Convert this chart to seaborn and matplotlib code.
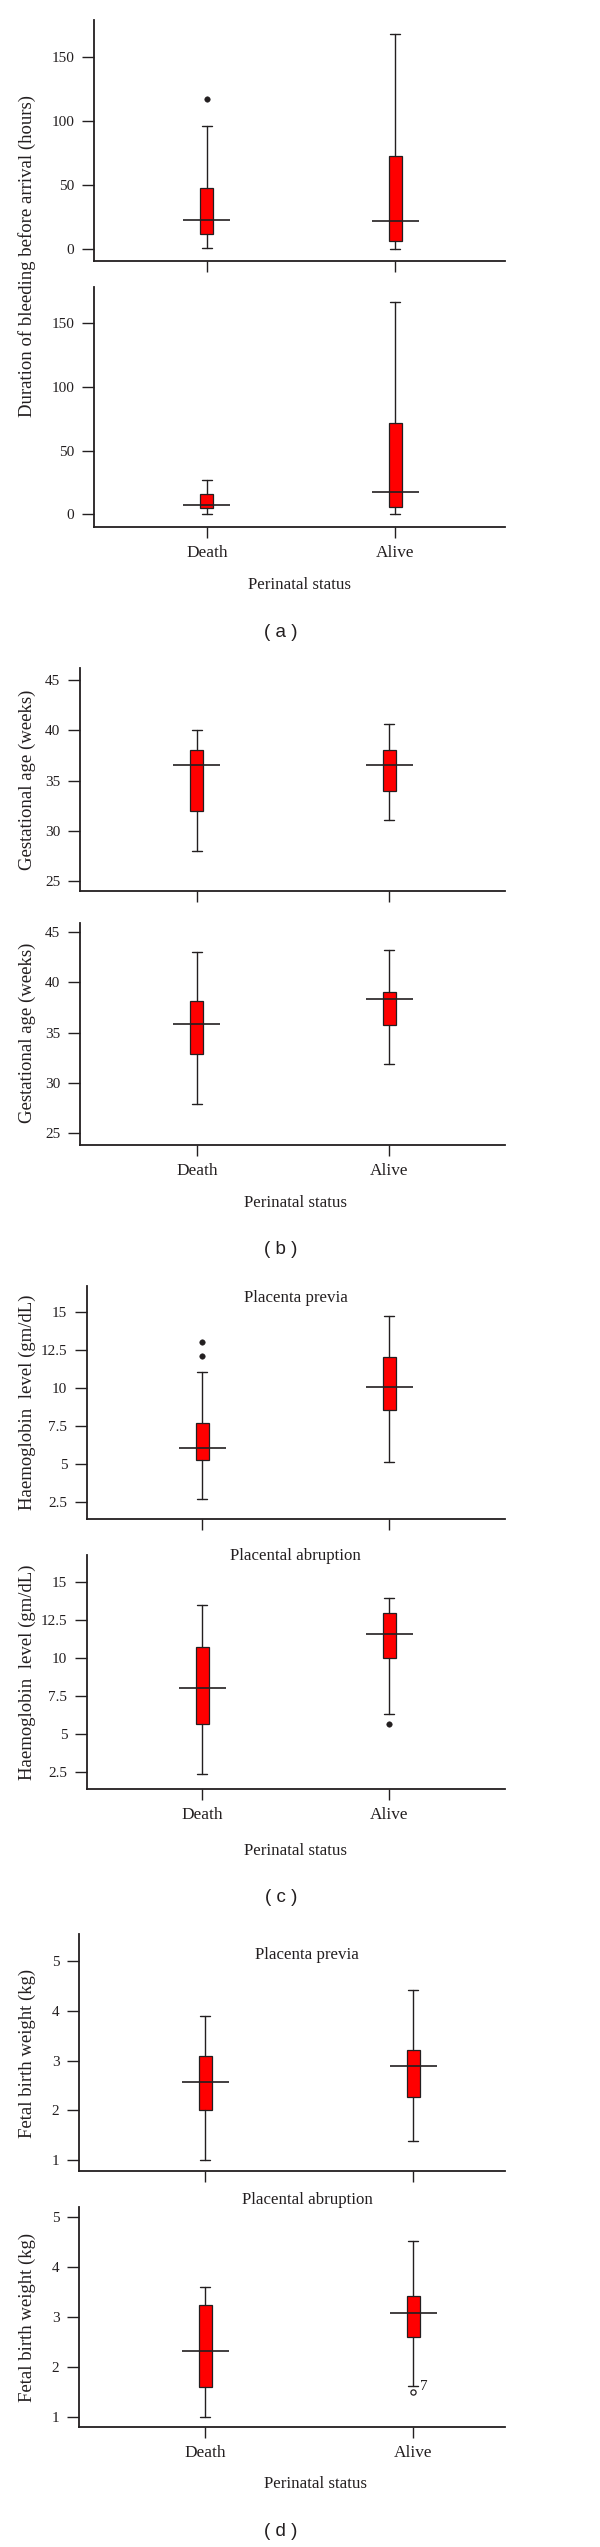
import numpy as np
import seaborn as sns
import matplotlib.pyplot as plt
from matplotlib.ticker import FuncFormatter

groups = ["Death", "Alive"]

# five-number summaries per group: [low whisker, Q1, median, Q3, high whisker]
bleed_previa = [[1, 12, 23, 48, 96], [0, 6, 22, 73, 168]]
bleed_previa_out = [[117], []]
bleed_abruption = [[0, 5, 7.3, 15.7, 27], [0, 6, 17.3, 71.5, 167]]
bleed_abruption_out = [[], []]

gest_previa = [[28, 32, 36.6, 38.1, 40], [31.1, 34, 36.6, 38.1, 40.6]]
gest_previa_out = [[], []]
gest_abruption = [[27.9, 32.9, 35.9, 38.1, 43], [31.9, 35.8, 38.35, 39, 43.2]]
gest_abruption_out = [[], []]

hb_previa = [[2.66, 5.23, 6.06, 7.67, 11.05], [5.08, 8.56, 10.08, 12.0, 14.7]]
hb_previa_out = [[12.06, 13.0], []]
hb_abruption = [[2.33, 5.64, 8.03, 10.72, 13.45], [6.32, 9.96, 11.56, 12.96, 13.95]]
hb_abruption_out = [[], [5.64]]

fbw_previa = [[1.0, 2.0, 2.57, 3.1, 3.9], [1.39, 2.28, 2.9, 3.21, 4.42]]
fbw_previa_out = [[], []]
fbw_abruption = [[1.0, 1.59, 2.32, 3.23, 3.6], [1.61, 2.6, 3.07, 3.41, 4.51]]
fbw_abruption_out = [[], [1.5]]
fbw_abruption_out_label = "7"

bleed_ticks = [0, 50, 100, 150]
gest_ticks = [25, 30, 35, 40, 45]
hb_ticks = [2.5, 5, 7.5, 10, 12.5, 15]
fbw_ticks = [1, 2, 3, 4, 5]

W, H = 600, 2547
INK = "#231f20"
RED = "#ff0000"

sns.set_theme(style="ticks")
plt.rcParams["font.family"] = ["Liberation Serif", "DejaVu Serif"]
plt.rcParams["text.color"] = INK

fig = plt.figure(figsize=(W / 100, H / 100), dpi=100)


def px_axes(left, top, right, bottom):
    return fig.add_axes([left / W, 1 - bottom / H, (right - left) / W, (bottom - top) / H])


def px_text(x, y, s, **kw):
    fig.text(x / W, 1 - y / H, s, ha="center", va="center", **kw)


def box_panel(rect, xlim, ylim, summaries, outliers, ticks, show_labels,
              hollow=False):
    ax = px_axes(*rect)
    ax.set_xlim(xlim)
    ax.set_ylim(ylim)
    ppu = (rect[2] - rect[0]) / (xlim[1] - xlim[0])

    stats = [dict(whislo=s[0], q1=s[1], med=s[2], q3=s[3], whishi=s[4], fliers=[])
             for s in summaries]
    ax.bxp(stats, positions=[0, 1], widths=13 / ppu, capwidths=10 / ppu,
           patch_artist=True, showfliers=False, manage_ticks=False,
           boxprops=dict(facecolor=RED, edgecolor=INK, linewidth=0.9),
           whiskerprops=dict(color=INK, linewidth=1.0),
           capprops=dict(color=INK, linewidth=1.0),
           medianprops=dict(visible=False))
    meds = [s[2] for s in summaries]
    half = 23.5 / ppu
    ax.hlines(meds, [p - half for p in (0, 1)], [p + half for p in (0, 1)],
              color=INK, linewidth=1.2, zorder=4)

    ox = [i for i, o in enumerate(outliers) for _ in o]
    oy = [v for o in outliers for v in o]
    if oy:
        if hollow:
            sns.scatterplot(x=ox, y=oy, ax=ax, s=14, facecolor="white",
                            edgecolor=INK, linewidth=0.9, zorder=5)
        else:
            sns.scatterplot(x=ox, y=oy, ax=ax, s=16, color=INK,
                            edgecolor=None, zorder=5)

    sns.despine(ax=ax)
    for side in ("left", "bottom"):
        ax.spines[side].set_color(INK)
        ax.spines[side].set_linewidth(1.3)
    ax.set_yticks(ticks)
    ax.yaxis.set_major_formatter(FuncFormatter(lambda v, p: f"{v:g}"))
    ax.set_xticks([0, 1])
    ax.set_xticklabels(groups if show_labels else ["", ""])
    ax.tick_params(axis="y", length=8.6, width=1.0, pad=5.5, labelsize=11,
                   color=INK, labelcolor=INK)
    ax.tick_params(axis="x", length=8, width=1.0, pad=5, labelsize=12.4,
                   color=INK, labelcolor=INK)
    ax.set_xlabel("")
    ax.set_ylabel("")
    return ax


# (a) duration of bleeding
box_panel((94, 20, 505, 261), (-0.601, 1.585), (-9.4, 179.2),
          bleed_previa, bleed_previa_out, bleed_ticks, False)
box_panel((94, 287, 505, 526.7), (-0.601, 1.585), (-9.7, 178.4),
          bleed_abruption, bleed_abruption_out, bleed_ticks, True)
px_text(27, 256, "Duration of bleeding before arrival (hours)", rotation=90, fontsize=13.5)
px_text(299, 585, "Perinatal status", fontsize=12.2)
px_text(281, 632, "( a )", fontsize=13.5, family="Liberation Sans")

# (b) gestational age
box_panel((80, 668, 505, 890.7), (-0.609, 1.604), (24.07, 46.2),
          gest_previa, gest_previa_out, gest_ticks, False)
box_panel((80, 922.7, 505, 1144.7), (-0.609, 1.604), (23.87, 45.92),
          gest_abruption, gest_abruption_out, gest_ticks, True)
px_text(27, 780, "Gestational age (weeks)", rotation=90, fontsize=13.5)
px_text(27, 1033, "Gestational age (weeks)", rotation=90, fontsize=13.5)
px_text(295, 1203, "Perinatal status", fontsize=12.2)
px_text(281, 1250, "( b )", fontsize=13.5, family="Liberation Sans")

# (c) haemoglobin
box_panel((87, 1286, 505, 1519), (-0.615, 1.620), (1.36, 16.7),
          hb_previa, hb_previa_out, hb_ticks, False)
box_panel((87, 1555, 505, 1789), (-0.615, 1.620), (1.36, 16.76),
          hb_abruption, hb_abruption_out, hb_ticks, True)
px_text(295.5, 1298, "Placenta previa", fontsize=12.2)
px_text(295.5, 1556, "Placental abruption", fontsize=12.2)
px_text(27, 1402, "Haemoglobin  level (gm/dL)", rotation=90, fontsize=13.5)
px_text(27, 1672, "Haemoglobin  level (gm/dL)", rotation=90, fontsize=13.5)
px_text(295.5, 1851, "Perinatal status", fontsize=12.2)
px_text(281, 1898, "( c )", fontsize=13.5, family="Liberation Sans")

# (d) fetal birth weight
box_panel((79, 1934, 505, 2171.3), (-0.606, 1.442), (0.78, 5.54),
          fbw_previa, fbw_previa_out, fbw_ticks, False)
ax_d2 = box_panel((79, 2206.7, 505, 2427.3), (-0.606, 1.442), (0.79, 5.2),
                  fbw_abruption, fbw_abruption_out, fbw_ticks, True, hollow=True)
ax_d2.annotate(fbw_abruption_out_label, xy=(1, fbw_abruption_out[1][0]),
               xytext=(8, 4), textcoords="offset points",
               ha="center", va="center", fontsize=11, color=INK)
px_text(307, 1955, "Placenta previa", fontsize=12.2)
px_text(307, 2200, "Placental abruption", fontsize=12.2)
px_text(27, 2053, "Fetal birth weight (kg)", rotation=90, fontsize=13.5)
px_text(27, 2317, "Fetal birth weight (kg)", rotation=90, fontsize=13.5)
px_text(316, 2484, "Perinatal status", fontsize=12.2)
px_text(281, 2531, "( d )", fontsize=13.5, family="Liberation Sans")

fig.savefig("out.png", dpi=100, facecolor="white")
